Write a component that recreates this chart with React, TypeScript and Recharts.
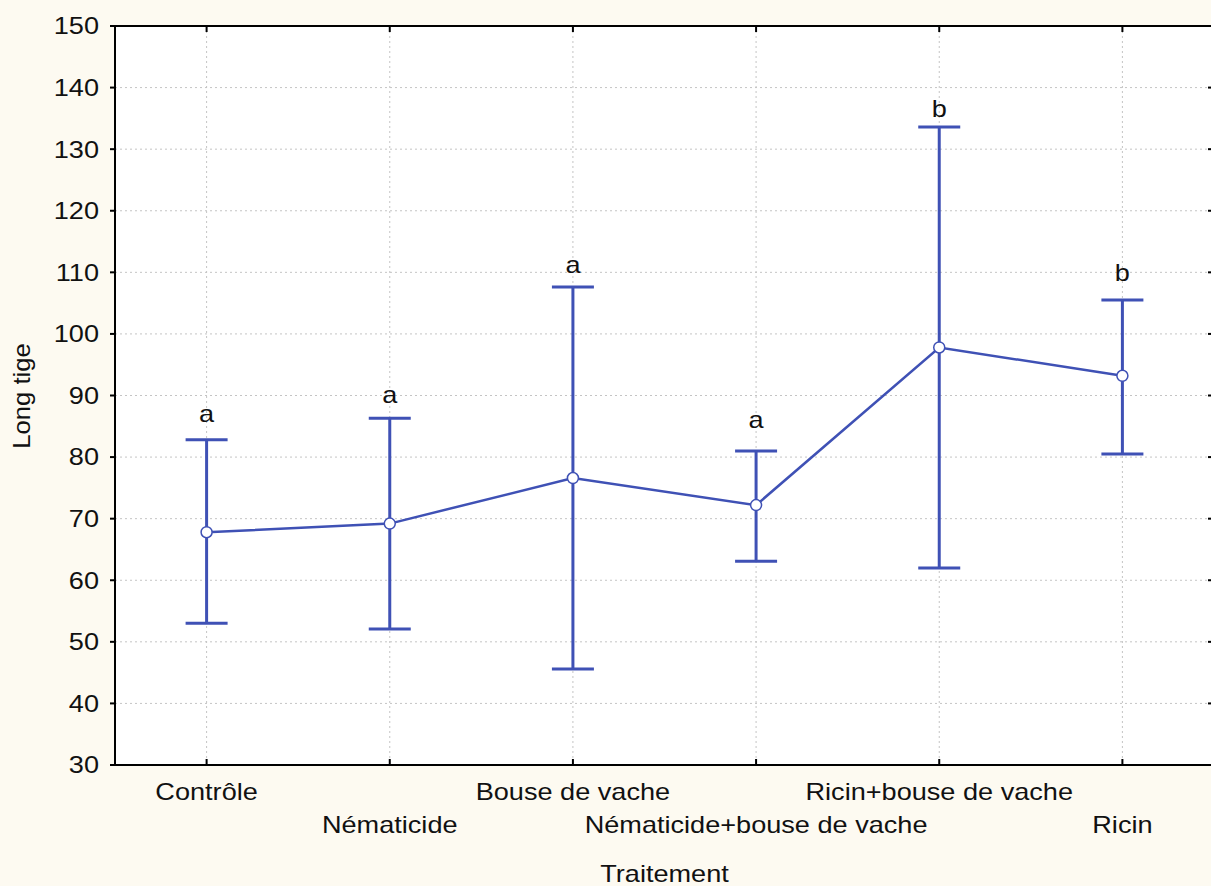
import React from "react";
import {
  ComposedChart,
  Line,
  XAxis,
  YAxis,
  CartesianGrid,
  ErrorBar,
  Label,
} from "recharts";

const categories = [
  "Contrôle",
  "Nématicide",
  "Bouse de vache",
  "Nématicide+bouse de vache",
  "Ricin+bouse de vache",
  "Ricin",
];
const means = [67.8, 69.2, 76.6, 72.2, 97.8, 93.2];
const upper = [82.8, 86.3, 107.6, 81.0, 133.6, 105.5];
const lower = [53.0, 52.1, 45.6, 63.1, 62.0, 80.5];
const groups = ["a", "a", "a", "a", "b", "b"];
const groupPos = [85.7, 88.8, 109.9, 84.7, 135.2, 108.6];
const yTicks = [30, 40, 50, 60, 70, 80, 90, 100, 110, 120, 130, 140, 150];

const data = categories.map((name, i) => ({
  name,
  mean: means[i],
  err: [means[i] - lower[i], upper[i] - means[i]],
  letterY: groupPos[i],
}));

const BLUE = "#3f51b5";
const FONT = "'Liberation Sans', Arial, sans-serif";
const SX = 1.13;
// half of a category slot, so the points sit at slot centres
const PAD = 91.6;

const BottomTick = (props: any) => {
  const { x, y, payload, index } = props;
  const dy = index % 2 === 0 ? 35 : 68;
  return (
    <g>
      <line x1={x} y1={y} x2={x} y2={y - 6} stroke="#000" strokeWidth={2} />
      <text
        transform={`translate(${x},${y + dy}) scale(${SX},1)`}
        textAnchor="middle"
        fontSize={24}
        fontFamily={FONT}
        fill="#111"
      >
        {payload.value}
      </text>
    </g>
  );
};

const TopTick = (props: any) => {
  const { x, y } = props;
  return <line x1={x} y1={y} x2={x} y2={y + 6} stroke="#000" strokeWidth={2} />;
};

const LeftTick = (props: any) => {
  const { x, y, payload } = props;
  return (
    <text
      transform={`translate(${x},${y}) scale(${SX},1)`}
      textAnchor="end"
      dy="0.35em"
      fontSize={24}
      fontFamily={FONT}
      fill="#111"
    >
      {payload.value}
    </text>
  );
};

const RightTick = (props: any) => {
  const { x, y } = props;
  return <line x1={x} y1={y} x2={x - 6} y2={y} stroke="#000" strokeWidth={2} />;
};

const GroupLetter = (props: any) => {
  const { cx, cy, index } = props;
  return (
    <text
      key={`g-${index}`}
      transform={`translate(${cx},${cy}) scale(${SX},1)`}
      textAnchor="middle"
      fontSize={24}
      fontFamily={FONT}
      fill="#111"
    >
      {groups[index]}
    </text>
  );
};

export default function App() {
  return (
    <div
      style={{
        position: "absolute",
        left: 0,
        top: 0,
        width: 1211,
        height: 886,
        overflow: "hidden",
        background: "#fdfaf1",
      }}
    >
      <ComposedChart
        width={1240}
        height={886}
        data={data}
        margin={{ top: 25, right: 0, bottom: 0, left: 0 }}
      >
        <CartesianGrid stroke="#c4c4c4" strokeDasharray="2 3" fill="#ffffff" />
        <XAxis
          dataKey="name"
          height={121}
          interval={0}
          padding={{ left: PAD, right: PAD }}
          tickSize={0}
          tickMargin={0}
          tickLine={false}
          axisLine={{ stroke: "#000", strokeWidth: 2 }}
          tick={<BottomTick />}
        >
          <Label
            content={(p: any) => {
              const vb = p.viewBox;
              return (
                <text
                  transform={`translate(${vb.x + vb.width / 2},882) scale(${SX},1)`}
                  textAnchor="middle"
                  fontSize={24}
                  fontFamily={FONT}
                  fill="#111"
                >
                  Traitement
                </text>
              );
            }}
          />
        </XAxis>
        <XAxis
          xAxisId="top"
          orientation="top"
          dataKey="name"
          height={1}
          interval={0}
          padding={{ left: PAD, right: PAD }}
          tickSize={0}
          tickMargin={0}
          tickLine={false}
          axisLine={{ stroke: "#000", strokeWidth: 2 }}
          tick={<TopTick />}
        />
        <YAxis
          type="number"
          domain={[30, 150]}
          ticks={yTicks}
          width={115}
          interval={0}
          tickSize={5}
          tickMargin={11}
          tickLine={{ stroke: "#000", strokeWidth: 2 }}
          axisLine={{ stroke: "#000", strokeWidth: 2 }}
          tick={<LeftTick />}
        >
          <Label
            content={() => (
              <text
                transform="translate(30,396) rotate(-90) scale(1.07,1)"
                textAnchor="middle"
                fontSize={24}
                fontFamily={FONT}
                fill="#111"
              >
                Long tige
              </text>
            )}
          />
        </YAxis>
        <YAxis
          yAxisId="right"
          orientation="right"
          type="number"
          domain={[30, 150]}
          ticks={yTicks}
          width={26}
          interval={0}
          tickSize={0}
          tickMargin={0}
          tickLine={false}
          axisLine={{ stroke: "#000", strokeWidth: 2 }}
          tick={<RightTick />}
        />
        <Line
          dataKey="mean"
          stroke={BLUE}
          strokeWidth={2.5}
          dot={{ r: 5.5, fill: "#fff", stroke: BLUE, strokeWidth: 1.5 }}
          activeDot={false}
          isAnimationActive={false}
        >
          <ErrorBar
            dataKey="err"
            direction="y"
            width={21}
            stroke={BLUE}
            strokeWidth={3}
            isAnimationActive={false}
          />
        </Line>
        <Line
          xAxisId="top"
          yAxisId="right"
          dataKey="letterY"
          stroke="none"
          dot={<GroupLetter />}
          activeDot={false}
          legendType="none"
          isAnimationActive={false}
        />
      </ComposedChart>
    </div>
  );
}
